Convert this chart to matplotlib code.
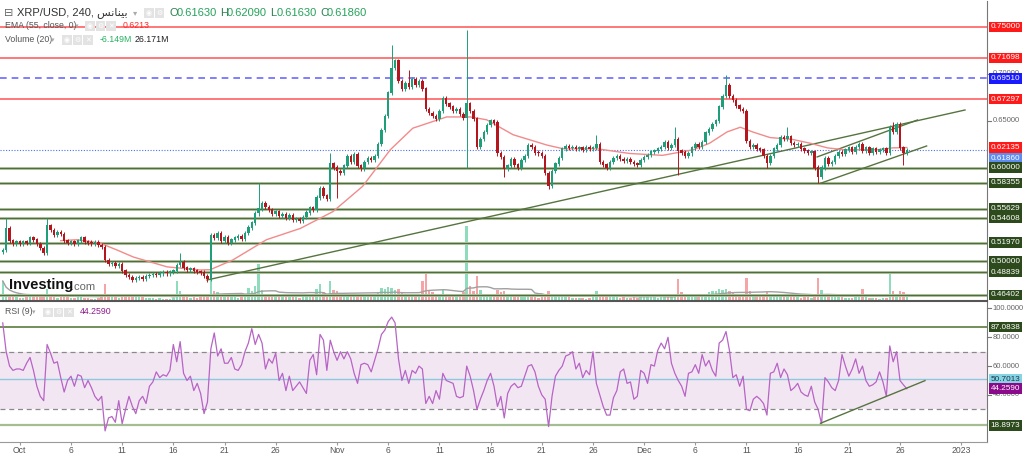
import numpy as np
import pandas as pd
import matplotlib
matplotlib.use("Agg")
import matplotlib.pyplot as plt
from matplotlib.patches import Rectangle
from matplotlib.transforms import blended_transform_factory

plt.rcParams["font.family"] = ["Liberation Sans", "DejaVu Sans"]

W, H = 1024, 454

# 8h candles, x = days since Oct 1 2022, first candle Sep 29 08:00
T0 = -5 / 3
STEP = 1 / 3
OPEN0 = 0.510

CLOSES = [
    0.512, 0.535,                      # Sep 29
    0.522, 0.519, 0.521,               # Sep 30
    0.518, 0.521, 0.520,               # Oct 1
    0.525, 0.523, 0.518,
    0.514, 0.509, 0.538,
    0.533, 0.528, 0.531,
    0.529, 0.522, 0.520,
    0.521, 0.518, 0.522,               # Oct 6
    0.525, 0.521, 0.520,
    0.519, 0.520, 0.517,
    0.515, 0.501, 0.497,
    0.498, 0.495, 0.497,
    0.490, 0.485, 0.483,               # Oct 11
    0.480, 0.482, 0.483,
    0.481, 0.484, 0.485,
    0.486, 0.485, 0.487,
    0.488, 0.487, 0.489,
    0.490, 0.496, 0.499,               # Oct 16
    0.493, 0.491, 0.492,
    0.490, 0.489, 0.488,
    0.484, 0.481, 0.528,
    0.525, 0.530, 0.522,
    0.526, 0.520, 0.523,               # Oct 21
    0.525, 0.527, 0.524,
    0.530, 0.536, 0.541,
    0.551, 0.556, 0.562,
    0.558, 0.555, 0.550,
    0.553, 0.548, 0.550,               # Oct 26
    0.546, 0.549, 0.544,
    0.545, 0.543, 0.547,
    0.552, 0.557, 0.555,
    0.568, 0.578, 0.570,
    0.566, 0.604, 0.600,               # Oct 31
    0.596, 0.594, 0.602,               # Nov 1
    0.612, 0.606, 0.614,
    0.602, 0.599, 0.606,
    0.610, 0.608, 0.612,
    0.625, 0.640, 0.655,
    0.680, 0.706, 0.714,               # Nov 6
    0.692, 0.684, 0.690,
    0.686, 0.694, 0.688,
    0.692, 0.684, 0.662,
    0.658, 0.655, 0.652,
    0.660, 0.674, 0.668,               # Nov 11
    0.665, 0.660, 0.662,
    0.657, 0.653, 0.668,
    0.660, 0.652, 0.622,
    0.630, 0.638, 0.645,
    0.650, 0.648, 0.615,               # Nov 16
    0.611, 0.598, 0.602,
    0.609, 0.603, 0.600,
    0.608, 0.612, 0.624,
    0.622, 0.616, 0.615,
    0.612, 0.594, 0.580,               # Nov 21
    0.596, 0.604, 0.610,
    0.620, 0.623, 0.621,
    0.622, 0.620, 0.621,
    0.619, 0.622, 0.620,
    0.621, 0.625, 0.606,               # Nov 26
    0.603, 0.600, 0.606,
    0.610, 0.612, 0.609,
    0.607, 0.609, 0.606,
    0.604, 0.603, 0.608,
    0.611, 0.613, 0.617,               # Dec 1
    0.618, 0.620, 0.622,
    0.627, 0.621, 0.624,
    0.630, 0.618, 0.616,
    0.612, 0.615, 0.621,
    0.625, 0.622, 0.627,               # Dec 6
    0.637, 0.641, 0.646,
    0.650, 0.665, 0.676,
    0.688, 0.676, 0.672,
    0.666, 0.662, 0.660,
    0.628, 0.622, 0.624,               # Dec 11
    0.620, 0.619, 0.612,
    0.605, 0.612, 0.620,
    0.624, 0.632, 0.630,
    0.633, 0.626, 0.624,
    0.625, 0.620, 0.618,               # Dec 16
    0.616, 0.617, 0.600,
    0.590, 0.600, 0.610,
    0.604, 0.606, 0.612,
    0.616, 0.614, 0.619,
    0.621, 0.617, 0.622,               # Dec 21
    0.625, 0.618, 0.621,
    0.616, 0.620, 0.617,
    0.619, 0.620, 0.616,
    0.643, 0.638, 0.646,
    0.621, 0.616, 0.6186,              # Dec 26
]

# wick extremes that stick out (candle index -> price)
HIGHS = {1: 0.546, 13: 0.546, 52: 0.509, 75: 0.583, 96: 0.615, 114: 0.731,
         119: 0.704, 136: 0.747, 174: 0.635, 197: 0.643, 212: 0.699,
         230: 0.643, 261: 0.649}
LOWS = {39: 0.478, 60: 0.478, 98: 0.568, 136: 0.600, 147: 0.590, 160: 0.577,
        198: 0.592, 224: 0.600, 239: 0.583, 264: 0.603}

VOLUMES = [
    80, 30,
    22, 18, 15,
    14, 12, 16, 20, 15, 18, 22, 18, 50, 25, 16, 14, 18, 20, 15,
    14, 12, 16, 18, 14, 12, 10, 9, 12, 20, 70, 30, 18, 15, 12,
    25, 22, 18, 30, 20, 15, 16, 14, 12, 12, 10, 14, 10, 8, 10,
    12, 80, 40, 30, 18, 14, 15, 12, 16, 22, 30, 120, 40, 35, 25,
    22, 18, 20, 15, 14, 18, 30, 52, 40, 60, 150, 45, 30, 25, 28,
    22, 20, 18, 20, 16, 18, 15, 14, 16, 25, 30, 22, 50, 68, 35,
    30, 80, 45,
    40, 28, 25, 30, 22, 20, 25, 20, 18, 20, 22, 25, 35, 52, 50,
    55, 52, 45, 50, 35, 30, 28, 30, 25, 30, 80, 120, 45, 35, 30,
    30, 45, 28, 22, 20, 18, 25, 35, 300, 60, 40, 100, 45, 30, 25,
    22, 20, 45, 35, 40, 25, 20, 18, 16, 18, 20, 25, 18, 16, 14,
    20, 25, 40, 30, 25, 22, 20, 18, 16, 14, 12, 14, 12, 10, 12,
    15, 40, 30, 25, 20, 18, 16, 15, 14, 18, 14, 12, 16, 14, 15,
    18, 16, 20, 15, 14, 16, 20, 22, 18, 30, 88, 35, 25, 18, 16,
    20, 18, 22, 30, 35, 40, 40, 48, 45, 48, 40, 35, 30, 25, 28,
    92, 40, 30, 25, 22, 30, 35, 25, 22, 20, 25, 18, 22, 18, 16,
    15, 14, 16, 15, 14, 30, 92, 45, 30, 25, 20, 18, 16, 15, 14,
    14, 12, 15, 20, 48, 16, 14, 12, 12, 10, 12, 14, 112, 40, 30,
    40, 35, 26,
]

RSI = [
    90, 70, 60, 57, 58, 58, 57, 62, 66, 57,
    46, 39, 36, 75, 69, 62, 63, 52, 42, 50,
    53, 46, 54, 53, 45, 50, 45, 39, 36, 39,
    15, 24, 25, 21, 36, 20, 30, 39, 32, 27,
    36, 39, 34, 46, 49, 56, 52, 54, 53, 57,
    75, 63, 77, 55, 50, 53, 43, 48, 41, 27,
    35, 72, 83, 67, 72, 62, 62, 66, 58, 57,
    61, 70, 76, 86, 75, 82, 76, 58, 65, 62,
    69, 50, 55, 43, 53, 43, 46, 49, 45, 41,
    64, 68, 54, 82, 78, 57, 78, 70, 64, 70,
    65, 70, 65, 55, 48, 61, 62, 61, 56, 64,
    72, 82, 85, 91, 94, 90, 65, 50, 57, 48,
    57, 55, 60, 58, 34, 39, 34, 43, 37, 55,
    50, 49, 48, 39, 38, 39, 60, 53, 43, 30,
    37, 43, 50, 55, 46, 32, 39, 24, 41, 46,
    48, 45, 46, 53, 60, 61, 56, 46, 40, 37,
    18, 39, 53, 57, 60, 67, 68, 70, 58, 62,
    52, 57, 54, 70, 48, 40, 32, 26, 26, 38,
    43, 56, 58, 48, 49, 37, 39, 57, 55, 48,
    61, 60, 71, 76, 72, 80, 62, 55, 50, 46,
    39, 55, 56, 61, 55, 68, 60, 64, 57, 53,
    76, 78, 84, 71, 52, 54, 46, 53, 30, 29,
    37, 39, 37, 34, 26, 55, 56, 62, 52, 58,
    54, 43, 45, 48, 42, 40, 39, 46, 35, 30,
    20, 52, 49, 45, 43, 50, 68, 60, 53, 58,
    65, 55, 60, 50, 46, 47, 49, 56, 49, 39,
    74, 63, 70, 50, 47, 44.259,
]

EMA_DAYS = [4, 5.6, 7.8, 9.5, 11.1, 14.4, 17.6, 18.6, 20.8, 24.1, 27.4, 30.6,
            33.5, 36.2, 38.4, 41.7, 44.0, 45.6, 48.2, 51.5, 53.1, 56.4, 59.6,
            62.8, 65.8, 67.4, 69.1, 70.4, 71.6, 73.3, 75.5, 77.2, 78.9, 80.5,
            83.8, 85.3, 86.67]
EMA_VALUES = [0.522, 0.523, 0.5195, 0.512, 0.5045, 0.494, 0.4907, 0.491,
              0.5013, 0.523, 0.535, 0.553, 0.58, 0.619, 0.642, 0.654, 0.654,
              0.651, 0.635, 0.624, 0.62, 0.62, 0.615, 0.613, 0.619, 0.626,
              0.638, 0.643, 0.638, 0.632, 0.630, 0.626, 0.621, 0.619, 0.619,
              0.621, 0.6213]

RED_LEVELS = [0.75, 0.71698, 0.67297]
BLUE_LEVEL = 0.6951
LAST_PRICE = 0.6186
EMA_LAST = 0.62135
GREEN_LEVELS = [0.6, 0.58355, 0.55629, 0.54608, 0.5197, 0.5, 0.48839, 0.46402]

# trendlines: (day0, price0, day1, price1)
TRENDS = [(18.29, 0.480, 92.35, 0.6614),
          (77.9, 0.6113, 87.7, 0.6507),
          (78.23, 0.5832, 88.6, 0.6230)]
RSI_TREND = (78.23, 20.3, 88.44, 49.9)
RSI_LEVELS = [87.0838, 18.8973]
RSI_MID = 50.7013

TICK_DAYS = [0, 5, 10, 15, 20, 25, 31, 36, 41, 46, 51, 56, 61, 66, 71, 76, 81, 86, 92]
TICK_LABELS = ["Oct", "6", "11", "16", "21", "26", "Nov", "6", "11", "16", "21",
               "26", "Dec", "6", "11", "16", "21", "26", "2023"]

UP, DOWN = "#1f9e7a", "#b5161e"
GREEN_LINE = "#4f6e38"


def fpos(x, y):
    """pixel -> figure coords"""
    return x / W, 1 - y / H


def axes_rect(x0, y0, x1, y1):
    return [x0 / W, 1 - y1 / H, (x1 - x0) / W, (y1 - y0) / H]


fig = plt.figure(figsize=(W / 100, H / 100), dpi=100)
ax = fig.add_axes(axes_rect(0, 1, 987, 301))
axr = fig.add_axes(axes_rect(0, 302, 987, 442))
axv = ax.twinx()

XMIN, XMAX = -1.935, 94.5
ax.set_xlim(XMIN, XMAX)
ax.set_ylim(0.4576, 0.7777)
axr.set_ylim(7.3, 104.5)

# ---- candles ----
closes = np.array(CLOSES)
n = len(closes)
t = T0 + np.arange(n) * STEP
opens = np.concatenate([[OPEN0], closes[:-1]])
pad = 0.0022
highs = np.maximum(opens, closes) + pad
lows = np.minimum(opens, closes) - pad
for i, v in HIGHS.items():
    highs[i] = v
for i, v in LOWS.items():
    lows[i] = v
up = closes >= opens
cols = np.where(up, UP, DOWN)

# volume underneath
vol = np.array(VOLUMES, dtype=float)
vcols = np.where(up, "#8fdcbc", "#f5a5a5")
axv.bar(t, vol, width=0.24, color=vcols, linewidth=0, zorder=1)
axv.plot(t, pd.Series(vol).rolling(20, min_periods=1).mean(), color="#a0a0a0",
         lw=1.0, zorder=2)
axv.set_xlim(XMIN, XMAX)
axv.set_ylim(0, 1200)
axv.axis("off")
ax.set_zorder(axv.get_zorder() + 1)
ax.patch.set_visible(False)

for y in RED_LEVELS:
    ax.axhline(y, color="#ff6060", lw=1.2, zorder=2)
ax.axhline(BLUE_LEVEL, color="#6a6aff", lw=1.2, ls=(0, (4, 3)), zorder=2)
ax.axhline(LAST_PRICE, color="#4f73f0", lw=0.8, ls=(0, (1, 1.5)), zorder=2)
for y in GREEN_LEVELS:
    ax.axhline(y, color="#b9c9ad", lw=2.2, zorder=1.5)
    ax.axhline(y, color=GREEN_LINE, lw=0.9, zorder=2)
for d0, p0, d1, p1 in TRENDS:
    ax.plot([d0, d1], [p0, p1], color="#56743f", lw=1.0, zorder=3)

ax.plot(EMA_DAYS, EMA_VALUES, color="#f28b8b", lw=1.0, zorder=3)

ax.vlines(t, lows, highs, color=cols, lw=0.7, zorder=4)
ax.bar(t, np.abs(closes - opens) + 0.0004, bottom=np.minimum(opens, closes),
       width=0.24, color=cols, linewidth=0, zorder=5)

ax.set_xticks([])
ax.set_yticks([])
for s in ["top", "left"]:
    ax.spines[s].set_visible(False)
ax.spines["right"].set_color("#777777")
ax.spines["bottom"].set_color("#555555")
ax.spines["bottom"].set_linewidth(1.5)

# ---- RSI ----
axr.fill_between([XMIN, XMAX], 30, 70, color="#f3e6f3", lw=0, zorder=0)
axr.axhline(70, color="#8a8a8a", lw=0.9, ls=(0, (4, 3)))
axr.axhline(30, color="#8a8a8a", lw=0.9, ls=(0, (4, 3)))
axr.axhline(RSI_MID, color="#8cc8de", lw=1.0)
axr.axhline(RSI_LEVELS[0], color="#5a7d3c", lw=1.2)
axr.axhline(RSI_LEVELS[1], color="#a5bd93", lw=1.6)
axr.plot(t, RSI, color="#b764c5", lw=0.9, zorder=3)
axr.plot(RSI_TREND[0::2], RSI_TREND[1::2], color="#56743f", lw=1.0, zorder=4)
axr.set_xlim(XMIN, XMAX)
axr.set_xticks(TICK_DAYS)
axr.set_xticklabels(TICK_LABELS)
axr.tick_params(axis="x", length=2.5, color="#999999", labelsize=6.2,
                labelcolor="#555555", pad=0.5)
axr.set_yticks([])
for s in ["top", "left"]:
    axr.spines[s].set_visible(False)
axr.spines["right"].set_color("#777777")
axr.spines["bottom"].set_color("#999999")


# ---- right axis labels ----
def tag(a, y, text, fc, tc="white", ytext=None):
    tr = blended_transform_factory(a.transAxes, a.transData)
    a.text(1.0035, y if ytext is None else ytext, text, transform=tr,
           ha="left", va="center", fontsize=5.9, color=tc, clip_on=False,
           zorder=10,
           bbox=dict(boxstyle="square,pad=0.22", fc=fc, ec="none"))


def plain(a, y, text):
    tr = blended_transform_factory(a.transAxes, a.transData)
    a.plot([1.0, 1.004], [y, y], transform=tr, color="#777777", lw=0.8,
           clip_on=False)
    a.text(1.0055, y, text, transform=tr, ha="left", va="center",
           fontsize=5.5, color="#666666", clip_on=False, zorder=9)


plain(ax, 0.70, "0.70000")
plain(ax, 0.65, "0.65000")
for y in RED_LEVELS:
    tag(ax, y, f"{y:.5f}", "#ff1a1a")
tag(ax, BLUE_LEVEL, f"{BLUE_LEVEL:.5f}", "#1a1aff")
tag(ax, EMA_LAST, f"{EMA_LAST:.5f}", "#ff1a1a")
tag(ax, LAST_PRICE, f"{LAST_PRICE:.5f}", "#5d8def", ytext=LAST_PRICE - 0.0085)
for y in GREEN_LEVELS:
    tag(ax, y, f"{y:.5f}", "#2d4a1c")

for v in [100, 80, 60, 40]:
    plain(axr, v, f"{v:.4f}")
tag(axr, RSI_LEVELS[0], f"{RSI_LEVELS[0]:.4f}", "#2d4a1c")
tag(axr, RSI_MID, f"{RSI_MID:.4f}", "#86d3e6", tc="#1c3540")
tag(axr, RSI[-1], "44.2590", "#8b0a8b")
tag(axr, RSI_LEVELS[1], f"{RSI_LEVELS[1]:.4f}", "#2d4a1c")


# ---- header text ----
def icons(x, y, k_max=3):
    for k, s in enumerate(["◉", "⚙", "✕"][:k_max]):
        fig.patches.append(Rectangle(fpos(x + k * 10.5, y + 4.5), 9.5 / W,
                                     9 / H, transform=fig.transFigure,
                                     fc="#e3e3e3", ec="none"))
        fig.text(*fpos(x + k * 10.5 + 4.75, y), s, fontsize=5, color="white",
                 ha="center", va="center", family=["DejaVu Sans"])


arabic = "\ufeb2\ufee7\ufe8e\ufee8\ufef4\ufe91"
fig.text(*fpos(4, 13), "⊟", fontsize=8, color="#666666", va="center",
         family=["DejaVu Sans"])
fig.text(*fpos(17, 13), "XRP/USD, 240, " + arabic, fontsize=8,
         color="#333333", va="center")
fig.text(*fpos(133, 13), "▾", fontsize=6, color="#aaaaaa", va="center",
         family=["DejaVu Sans"])
icons(144, 13, 2)
hx = 170
for lab, val in [("O", "0.61630"), ("H", "0.62090"), ("L", "0.61630"),
                 ("C", "0.61860")]:
    fig.text(*fpos(hx, 13), lab, fontsize=8, color="#2e7d4f", va="center")
    fig.text(*fpos(hx + 7, 13), val, fontsize=8, color="#25a25a", va="center")
    hx += 50

fig.text(*fpos(5, 26), "EMA (55, close, 0)", fontsize=6.3, color="#555555",
         va="center")
fig.text(*fpos(75, 26), "▾", fontsize=5, color="#aaaaaa", va="center",
         family=["DejaVu Sans"])
icons(85, 26)
fig.text(*fpos(123, 26), "0.6213", fontsize=6.3, color="#ff2a2a", va="center")

fig.text(*fpos(5, 40), "Volume (20)", fontsize=6.3, color="#555555",
         va="center")
fig.text(*fpos(51, 40), "▾", fontsize=5, color="#aaaaaa", va="center",
         family=["DejaVu Sans"])
icons(62, 40)
fig.text(*fpos(100, 40), "-6.149M", fontsize=6.3, color="#26b35f", va="center")
fig.text(*fpos(135, 40), "26.171M", fontsize=6.3, color="#222222", va="center")

fig.text(*fpos(5, 312), "RSI (9)", fontsize=6.3, color="#555555", va="center")
fig.text(*fpos(32, 312), "▾", fontsize=5, color="#aaaaaa", va="center",
         family=["DejaVu Sans"])
icons(43, 312)
fig.text(*fpos(80, 312), "44.2590", fontsize=6.3, color="#8b1a8b", va="center")

# watermark
fig.text(*fpos(9, 285), "Investing", fontsize=10.5, fontweight="bold",
         color="#111111", va="center")
fig.text(*fpos(71, 287), ".com", fontsize=8, color="#666666", va="center")

fig.savefig("out.png", dpi=100)
